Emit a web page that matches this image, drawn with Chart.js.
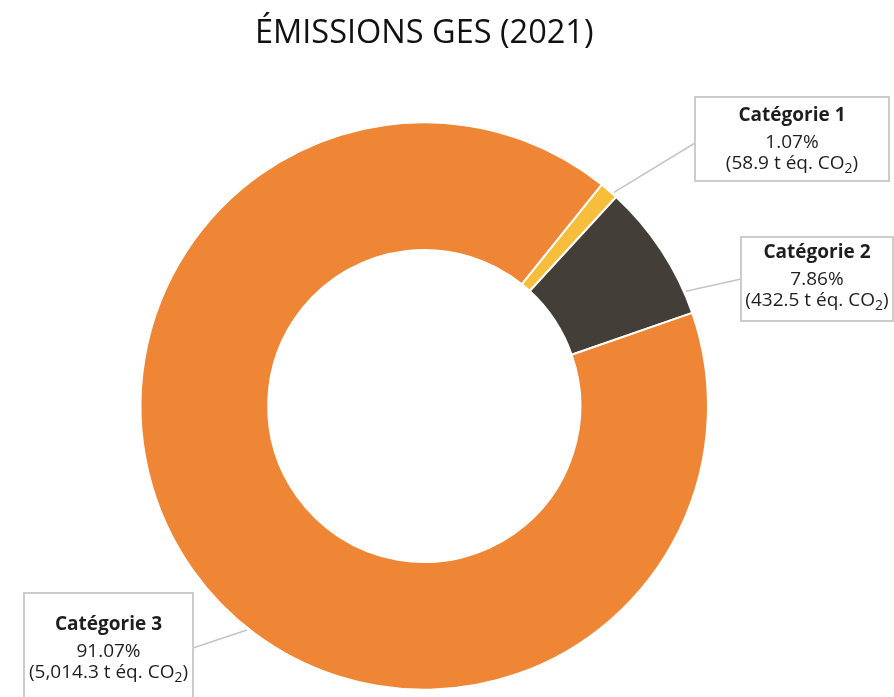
<!DOCTYPE html>
<html lang="fr">
<head>
<meta charset="utf-8">
<title>Émissions GES (2021)</title>
<script src="https://cdn.jsdelivr.net/npm/chart.js@4.4.1/dist/chart.umd.min.js"></script>
<style>
  html, body { margin: 0; padding: 0; background: #fff; }
  #wrap { width: 894px; height: 697px; }
</style>
</head>
<body>
<div id="wrap"><canvas id="chart" width="894" height="697"></canvas></div>
<script>
// Données (t éq. CO2)
var categories = ['Catégorie 1', 'Catégorie 2', 'Catégorie 3'];
var tonnes = [58.9, 432.5, 5014.3];
var colors = ['#F6BE3A', '#433F38', '#EE8636'];
var titleText = 'ÉMISSIONS GES (2021)';

var FONT = '"Open Sans", "Noto Sans", sans-serif';
var total = tonnes.reduce(function (a, b) { return a + b; }, 0);

// boîtes d'étiquettes : rectangle, point d'ancrage du trait, position du trait sur l'arc
var callouts = [
  { box: [695, 97, 194, 84], anchor: [695, 143], frac: 0.75, base: 121 },
  { box: [741, 237, 152, 84], anchor: [741, 279], frac: 0.84, base: 258 },
  { box: [24, 593, 169, 118], anchor: [193, 648], frac: 0.45, base: 630 }
];

function fmtT(v) {
  return v.toLocaleString('en-US', { minimumFractionDigits: 1, maximumFractionDigits: 1 });
}

var calloutPlugin = {
  id: 'callouts',
  afterDatasetsDraw: function (chart) {
    var ctx = chart.ctx;
    var meta = chart.getDatasetMeta(0);
    meta.data.forEach(function (arc, i) {
      var c = callouts[i];
      var p = arc.getProps(['x', 'y', 'startAngle', 'endAngle', 'outerRadius'], true);
      var a = p.startAngle + c.frac * (p.endAngle - p.startAngle);
      var sx = p.x + Math.cos(a) * (p.outerRadius + 2);
      var sy = p.y + Math.sin(a) * (p.outerRadius + 2);
      ctx.save();
      ctx.strokeStyle = '#c4c4c4';
      ctx.lineWidth = 1.5;
      ctx.beginPath();
      ctx.moveTo(sx, sy);
      ctx.lineTo(c.anchor[0], c.anchor[1]);
      ctx.stroke();

      var b = c.box;
      ctx.fillStyle = '#fff';
      ctx.fillRect(b[0], b[1], b[2], b[3]);
      ctx.strokeStyle = '#cccccc';
      ctx.lineWidth = 2;
      ctx.strokeRect(b[0], b[1], b[2], b[3]);

      var cx = b[0] + b[2] / 2;
      ctx.fillStyle = '#1e1e1e';
      ctx.textBaseline = 'alphabetic';
      ctx.textAlign = 'center';
      ctx.font = 'bold 19px ' + FONT;
      ctx.fillText(categories[i], cx, c.base);
      ctx.font = '19px ' + FONT;
      ctx.fillText((tonnes[i] / total * 100).toFixed(2) + '%', cx, c.base + 27);

      // (xx t éq. CO₂) avec indice
      var pre = '(' + fmtT(tonnes[i]) + ' t éq. CO';
      var post = ')';
      ctx.font = '19px ' + FONT;
      var w1 = ctx.measureText(pre).width, w3 = ctx.measureText(post).width;
      ctx.font = '14px ' + FONT;
      var w2 = ctx.measureText('2').width;
      var x0 = cx - (w1 + w2 + w3) / 2;
      var y3 = c.base + 48;
      ctx.textAlign = 'left';
      ctx.font = '19px ' + FONT;
      ctx.fillText(pre, x0, y3);
      ctx.font = '14px ' + FONT;
      ctx.fillText('2', x0 + w1, y3 + 4);
      ctx.font = '19px ' + FONT;
      ctx.fillText(post, x0 + w1 + w2, y3);
      ctx.restore();
    });
  }
};

new Chart(document.getElementById('chart').getContext('2d'), {
  type: 'doughnut',
  data: {
    labels: categories,
    datasets: [{
      data: tonnes,
      backgroundColor: colors,
      borderColor: '#fff',
      borderWidth: 2
    }]
  },
  options: {
    responsive: false,
    animation: false,
    devicePixelRatio: 1,
    rotation: 38.7,
    cutout: '55%',
    layout: { padding: { left: 139.5, right: 185, top: 0, bottom: 4.5 } },
    plugins: {
      legend: { display: false },
      tooltip: { enabled: false },
      title: {
        display: true,
        text: titleText,
        color: '#111',
        font: { family: FONT, size: 32.5, weight: 'normal', lineHeight: 1.2 },
        padding: { top: 14, bottom: 66.5 }
      }
    }
  },
  plugins: [calloutPlugin]
});
</script>
</body>
</html>
